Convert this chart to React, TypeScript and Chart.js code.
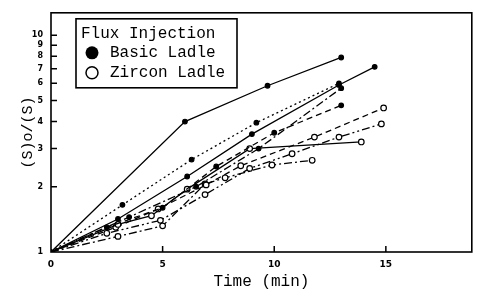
import React, { useEffect, useRef } from "react";
import { Chart, registerables } from "chart.js";
Chart.register(...registerables);

const xTicks = [0, 5, 10, 15];
const yTicks = [1, 2, 3, 4, 5, 6, 7, 8, 9, 10];

// Basic ladle (filled circles)
const basic1T = [0, 6, 9.7, 13];
const basic1V = [1, 4.0, 5.85, 7.9];
const basic2T = [0, 3.2, 6.3, 9.2, 12.9];
const basic2V = [1, 1.65, 2.67, 3.95, 6.0];
const basic3T = [0, 3.0, 6.1, 9.0, 12.9, 14.5];
const basic3V = [1, 1.42, 2.23, 3.5, 5.9, 7.15];
const basic4T = [0, 2.5, 5, 7.4, 10, 13];
const basic4V = [1, 1.3, 1.6, 2.48, 3.55, 4.75];
const basic5T = [0, 3.5, 6.5, 9.3, 13];
const basic5V = [1, 1.45, 2.0, 3.0, 5.7];

// Zircon ladle (open circles)
const zircon1T = [0, 3, 4.5, 6.1, 8.9, 13.9];
const zircon1V = [1, 1.34, 1.47, 1.95, 3.0, 3.22];
const zircon2T = [0, 2.9, 4.8, 6.95, 8.5, 11.8, 14.9];
const zircon2V = [1, 1.3, 1.58, 2.04, 2.5, 3.39, 4.62];
const zircon3T = [0, 3, 5, 6.9, 7.8, 9.9, 11.7];
const zircon3V = [1, 1.18, 1.32, 2.06, 2.2, 2.52, 2.65];
const zircon4T = [0, 2.5, 4.9, 6.9, 8.9, 10.8, 12.9, 14.8];
const zircon4V = [1, 1.22, 1.4, 1.84, 2.43, 2.84, 3.39, 3.9];

const legendTitle = "Flux Injection";
const legendBasic = "Basic Ladle";
const legendZircon = "Zircon Ladle";
const xTitle = "Time (min)";
const yTitle = "(S)o/(S)";

const MONO = "'Liberation Mono', 'DejaVu Sans Mono', monospace";

function toPts(t: number[], v: number[]) {
  return t.map((x, i) => ({ x, y: v[i] }));
}

function ds(t: number[], v: number[], dash: number[], filled: boolean) {
  return {
    data: toPts(t, v),
    borderColor: "#000",
    borderWidth: 1.3,
    borderDash: dash,
    pointRadius: (c: any) => (c.dataIndex === 0 ? (filled ? 2 : 0) : filled ? 2.3 : 2.8),
    pointBackgroundColor: filled ? "#000" : "#fff",
    pointBorderColor: "#000",
    pointBorderWidth: 1.2,
    tension: 0,
    fill: false,
  };
}

const decor = {
  id: "decor",
  afterDraw(chart: any) {
    const { ctx, chartArea: a, scales } = chart;
    ctx.save();
    ctx.strokeStyle = "#000";
    ctx.lineWidth = 1.6;
    ctx.setLineDash([]);
    ctx.strokeRect(a.left, a.top, a.right - a.left, a.bottom - a.top);
    ctx.lineWidth = 1.5;
    ctx.beginPath();
    xTicks.forEach((v) => {
      if (v === 0) return;
      const px = scales.x.getPixelForValue(v);
      ctx.moveTo(px, a.bottom);
      ctx.lineTo(px, a.bottom - 6);
    });
    yTicks.forEach((v) => {
      if (v === 1) return;
      const py = scales.y.getPixelForValue(v);
      ctx.moveTo(a.left, py);
      ctx.lineTo(a.left + 6, py);
    });
    ctx.stroke();

    // legend box
    const bx = a.left + 25;
    const by = a.top + 6;
    ctx.fillStyle = "#fff";
    ctx.fillRect(bx, by, 161, 69);
    ctx.lineWidth = 1.6;
    ctx.strokeRect(bx, by, 161, 69);
    ctx.fillStyle = "#000";
    ctx.font = `16px ${MONO}`;
    ctx.textBaseline = "middle";
    ctx.textAlign = "left";
    ctx.fillText(legendTitle, bx + 5, by + 15);
    ctx.fillText(legendBasic, bx + 34, by + 34);
    ctx.fillText(legendZircon, bx + 34, by + 54);
    ctx.beginPath();
    ctx.arc(bx + 16, by + 34, 6.5, 0, Math.PI * 2);
    ctx.fill();
    ctx.beginPath();
    ctx.arc(bx + 16, by + 54, 6, 0, Math.PI * 2);
    ctx.lineWidth = 1.5;
    ctx.stroke();
    ctx.restore();
  },
};

export default function App() {
  const ref = useRef<HTMLCanvasElement>(null);
  useEffect(() => {
    if (!ref.current) return;
    const chart = new Chart(ref.current, {
      type: "line",
      data: {
        datasets: [
          ds(basic1T, basic1V, [], true),
          ds(basic2T, basic2V, [2, 3], true),
          ds(basic3T, basic3V, [], true),
          ds(basic4T, basic4V, [6, 4], true),
          ds(basic5T, basic5V, [8, 3, 2, 3], true),
          ds(zircon1T, zircon1V, [], false),
          ds(zircon2T, zircon2V, [6, 4], false),
          ds(zircon3T, zircon3V, [8, 3, 2, 3], false),
          ds(zircon4T, zircon4V, [8, 3, 2, 3, 2, 3], false),
        ] as any,
      },
      options: {
        animation: false,
        responsive: false,
        maintainAspectRatio: false,
        layout: { padding: { top: 7, right: 4, left: 0, bottom: 0 } },
        plugins: { legend: { display: false }, tooltip: { enabled: false } },
        scales: {
          x: {
            type: "linear",
            min: 0,
            max: 18.85,
            afterFit: (s: any) => {
              s.height = 39;
            },
            afterBuildTicks: (s: any) => {
              s.ticks = xTicks.map((v) => ({ value: v }));
            },
            grid: { display: false, drawTicks: false },
            border: { display: false },
            ticks: {
              padding: 7,
              color: "#000",
              maxRotation: 0,
              font: { family: "'DejaVu Sans'", size: 9, weight: "bold" },
            },
            title: {
              display: true,
              text: xTitle,
              color: "#000",
              font: { family: MONO, size: 16 },
              padding: { top: 0, bottom: 0 },
            },
          },
          y: {
            type: "logarithmic",
            min: 1,
            max: 12.7,
            afterFit: (s: any) => {
              s.width = 51;
            },
            afterBuildTicks: (s: any) => {
              s.ticks = yTicks.map((v) => ({ value: v }));
            },
            grid: { display: false, drawTicks: false },
            border: { display: false },
            ticks: {
              padding: 8,
              color: "#000",
              font: { family: "'DejaVu Sans'", size: 8, weight: "bold" },
              callback: (v: any) => String(v),
            },
            title: {
              display: true,
              text: yTitle,
              color: "#000",
              font: { family: MONO, size: 15 },
              padding: { top: 19, bottom: 0 },
            },
          },
        },
      },
      plugins: [decor],
    } as any);
    return () => chart.destroy();
  }, []);
  return (
    <div style={{ position: "absolute", left: 0, top: 0, width: 477, height: 291, background: "#fff" }}>
      <canvas ref={ref} width={477} height={291} style={{ width: 477, height: 291, display: "block" }} />
    </div>
  );
}
